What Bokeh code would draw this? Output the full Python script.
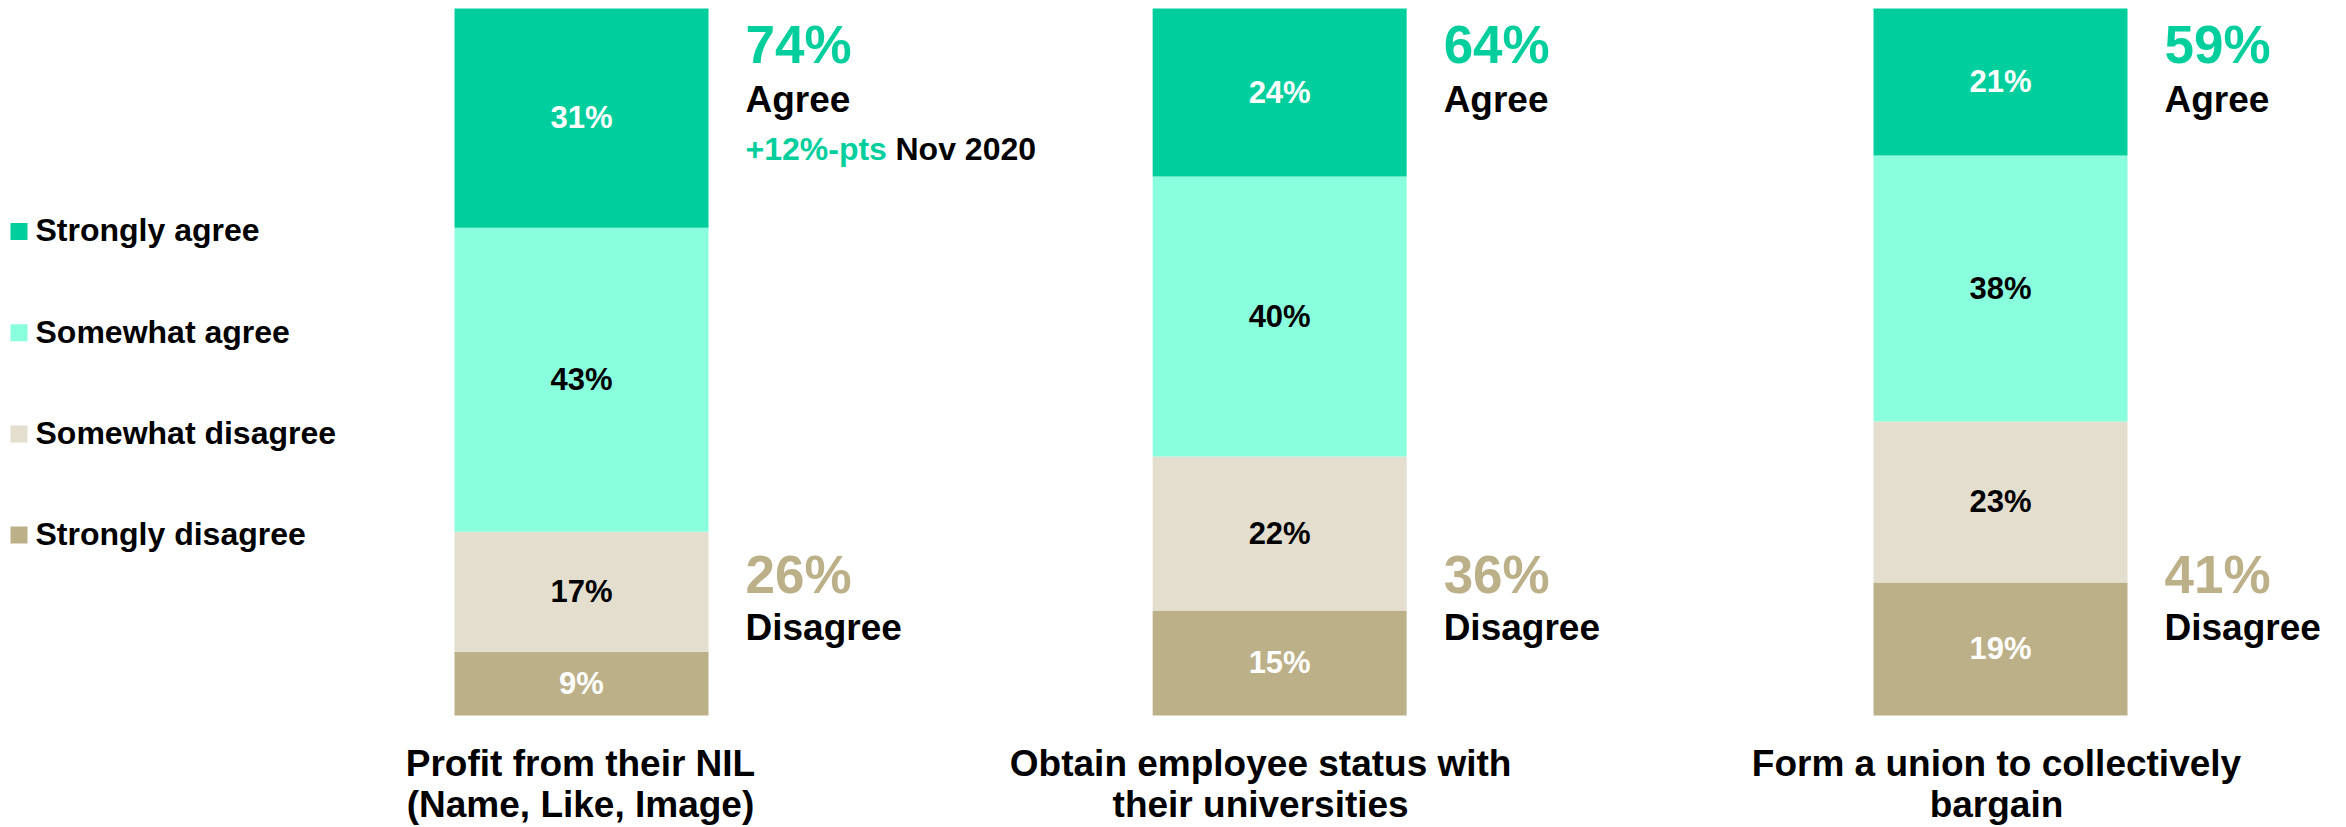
from bokeh.plotting import figure
from bokeh.models import Range1d, ColumnDataSource
from bokeh.core.properties import value
from bokeh.embed import file_html
from bokeh.resources import INLINE

# ---------------- data ----------------
statements = [
    "Profit from their NIL\n(Name, Like, Image)",
    "Obtain employee status with\ntheir universities",
    "Form a union to collectively\nbargain",
]
levels = ["Strongly agree", "Somewhat agree", "Somewhat disagree", "Strongly disagree"]
strongly_agree = [31, 24, 21]
somewhat_agree = [43, 40, 38]
somewhat_disagree = [17, 22, 23]
strongly_disagree = [9, 15, 19]
agree_total = [74, 64, 59]
disagree_total = [26, 36, 41]
trend_change = ["+12%-pts", "", ""]
trend_since = ["Nov 2020", "", ""]

# ---------------- style / layout ----------------
colors = {"Strongly agree": "#00CF9D", "Somewhat agree": "#8AFFDE",
          "Somewhat disagree": "#E3DECE", "Strongly disagree": "#BCB089"}
label_colors = {"Strongly agree": "white", "Somewhat agree": "black",
                "Somewhat disagree": "black", "Strongly disagree": "white"}
FONT = value("Liberation Sans")
W, H = 2346, 827
UNIT = 709.5          # px per bar slot
PCT = 7.07            # px per percent
X0 = -581 / UNIT
X1 = X0 + W / UNIT
Y1 = 100 + 8 / PCT
Y0 = -(H - 715) / PCT
BAR_W = 254 / UNIT
BAR_POS = [0.0, 0.984, 2.0]
LABEL_DX = [-1, -19, -4]
BL = 0.36             # baseline compensation (fraction of font size)


def off(target, size):
    return target - BL * size


def px_x(sx):
    return X0 + sx / W * (X1 - X0)


def px_y(sy):
    return Y1 - sy / H * (Y1 - Y0)


p = figure(width=W, height=H, output_backend="svg", toolbar_location=None,
           x_range=Range1d(X0, X1), y_range=Range1d(Y0, Y1),
           x_axis_location=None, y_axis_location=None, min_border=0,
           outline_line_color=None, background_fill_color="white",
           border_fill_color="white")
p.xgrid.visible = False
p.ygrid.visible = False

series = {"Strongly disagree": strongly_disagree, "Somewhat disagree": somewhat_disagree,
          "Somewhat agree": somewhat_agree, "Strongly agree": strongly_agree}
totals = [a + b + c + d for a, b, c, d in zip(strongly_agree, somewhat_agree,
                                               somewhat_disagree, strongly_disagree)]
base = [0.0] * 3
for lvl in ["Strongly disagree", "Somewhat disagree", "Somewhat agree", "Strongly agree"]:
    vals = series[lvl]
    frac = [v / t * 100 for v, t in zip(vals, totals)]
    top = [b + f for b, f in zip(base, frac)]
    src = ColumnDataSource(dict(x=BAR_POS, bottom=list(base), top=top,
                                mid=[(b + t) / 2 for b, t in zip(base, top)],
                                label=[f"{v}%" for v in vals]))
    p.vbar(x="x", bottom="bottom", top="top", width=BAR_W, source=src,
           fill_color=colors[lvl], line_color=None)
    p.text(x="x", y="mid", text="label", source=src, text_align="center",
           text_baseline="alphabetic", y_offset=off(11, 31), text_font=FONT,
           text_font_style="bold", text_font_size="31px", text_color=label_colors[lvl])
    base = top

# right-side summaries
right_x = [b + BAR_W / 2 for b in BAR_POS]
agree_src = ColumnDataSource(dict(x=right_x, y=[100] * 3,
                                  pct=[f"{v}%" for v in agree_total],
                                  word=["Agree"] * 3, chg=trend_change, since=trend_since))
dis_src = ColumnDataSource(dict(x=right_x, y=[0] * 3,
                                pct=[f"{v}%" for v in disagree_total], word=["Disagree"] * 3))
common = dict(text_align="left", text_baseline="alphabetic", text_font=FONT,
              text_font_style="bold", x_offset=37)
p.text(x="x", y="y", text="pct", source=agree_src, y_offset=off(55.5, 53),
       text_font_size="53px", text_color=colors["Strongly agree"], **common)
p.text(x="x", y="y", text="word", source=agree_src, y_offset=off(104, 37),
       text_font_size="37px", text_color="black", **common)
p.text(x="x", y="y", text="chg", source=agree_src, y_offset=off(152, 32),
       text_font_size="32px", text_color=colors["Strongly agree"], **common)
common2 = dict(common)
common2["x_offset"] = 37 + 150
p.text(x="x", y="y", text="since", source=agree_src, y_offset=off(152, 32),
       text_font_size="32px", text_color="black", **common2)
p.text(x="x", y="y", text="pct", source=dis_src, y_offset=off(-122, 53),
       text_font_size="53px", text_color=colors["Strongly disagree"], **common)
p.text(x="x", y="y", text="word", source=dis_src, y_offset=off(-75, 37),
       text_font_size="37px", text_color="black", **common)

# category labels below bars
line1 = [s.split("\n")[0] for s in statements]
line2 = [s.split("\n")[1] for s in statements]
for i in range(3):
    p.text(x=[BAR_POS[i]], y=[0], text=[line1[i]], x_offset=LABEL_DX[i], y_offset=off(61, 37),
           text_align="center", text_baseline="alphabetic", text_font=FONT,
           text_font_style="bold", text_font_size="37px", text_color="black")
    p.text(x=[BAR_POS[i]], y=[0], text=[line2[i]], x_offset=LABEL_DX[i], y_offset=off(102, 37),
           text_align="center", text_baseline="alphabetic", text_font=FONT,
           text_font_style="bold", text_font_size="37px", text_color="black")

# legend (manual)
leg_top, leg_pitch = 231.0, 101.2
for k, lvl in enumerate(levels):
    cy = leg_top + k * leg_pitch
    p.scatter(x=[px_x(18.5)], y=[px_y(cy)], marker="square", size=17,
              fill_color=colors[lvl], line_color=None)
    p.text(x=[px_x(35)], y=[px_y(cy)], text=[lvl], y_offset=off(10.5, 32), text_align="left",
           text_baseline="alphabetic", text_font=FONT, text_font_style="bold",
           text_font_size="32px", text_color="black")

open("out.html", "w").write(file_html(p, INLINE))
